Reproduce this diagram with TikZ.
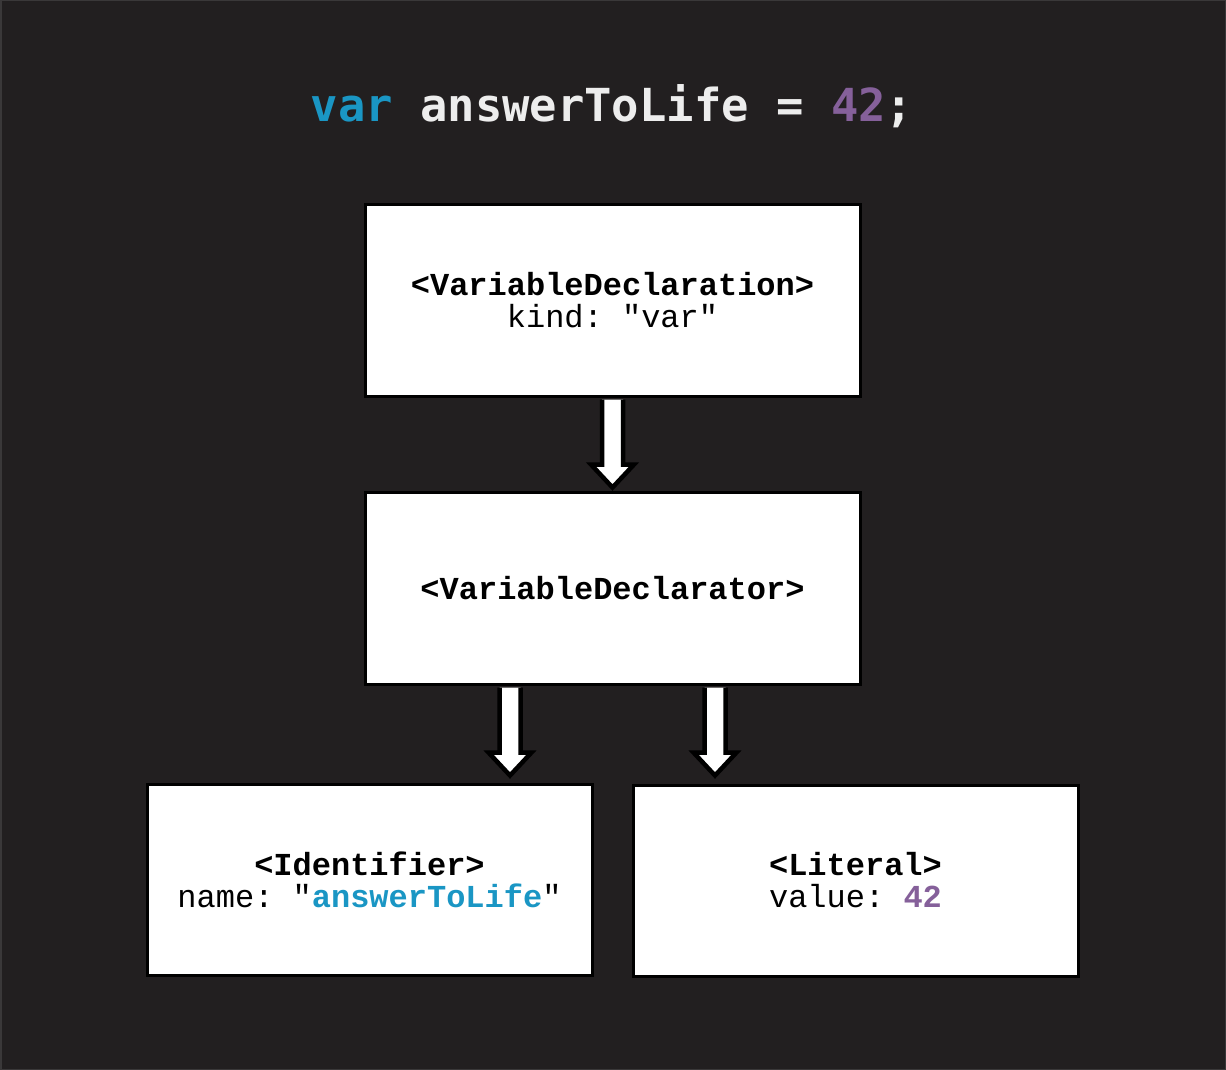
\documentclass[tikz,border=0pt]{standalone}
\usepackage{fontspec}
\setmonofont{Liberation Mono}
\newfontfamily\titlefont{DejaVu Sans Mono}
\usetikzlibrary{calc}
\definecolor{bg}{HTML}{221F20}
\definecolor{edgegrey}{HTML}{3A3839}
\definecolor{kwblue}{HTML}{1A96C4}
\definecolor{numpurple}{HTML}{85609A}
\definecolor{titlegrey}{HTML}{EDEDED}
\tikzset{
  astbox/.style={draw=black, line width=3pt, fill=white, inner sep=0pt,
    minimum width=495pt, minimum height=192pt, align=center,
    font=\ttfamily\fontsize{32}{32}\selectfont},
  leafbox/.style={astbox, minimum width=445pt, minimum height=191pt},
  blockarr/.style={draw=black, line width=4.5pt, fill=white, line join=miter},
}
\begin{document}
\begin{tikzpicture}[x=1pt,y=-1pt]
\fill[bg] (0,0) rectangle (1226,1070);
\draw[edgegrey, line width=1.5pt] (0.75,0.75) rectangle (1225.25,1069.25);
\useasboundingbox (0,0) rectangle (1226,1070);

\node[anchor=base, text=titlegrey, font=\titlefont\bfseries\fontsize{45.5}{45.5}\selectfont] (title) at (612,122)
  {\textcolor{kwblue}{var} answerToLife = \textcolor{numpurple}{42};};

\node[astbox] (b1) at (612.5,300) {\textbf{<VariableDeclaration>}\\kind: "var"};
\node[astbox] (b2) at (612.5,588) {\textbf{<VariableDeclarator>}};
\node[leafbox] (b3) at (369.5,879.5) {\textbf{<Identifier>}\\name: "\textcolor{kwblue}{\textbf{answerToLife}}"};
\node[leafbox] (b4) at (855.5,880.5) {\textbf{<Literal>}\\value: \textcolor{numpurple}{\textbf{42}}};

% arrow b1 -> b2
\coordinate (s1) at ($(b1.south)+(0,2)$);
\coordinate (t1) at ($(b2.north)+(0,-3)$);
\draw[blockarr] ($(s1)+(-10.5,0)$) -- ($(t1)+(-10.5,-23)$) -- ($(t1)+(-21.5,-23)$) -- (t1)
  -- ($(t1)+(21.5,-23)$) -- ($(t1)+(10.5,-23)$) -- ($(s1)+(10.5,0)$);

% arrow b2 -> b3
\coordinate (s2) at ($(b2.south)+(-102.5,2)$);
\coordinate (t2) at ($(s2 |- b3.north)+(0,-7)$);
\draw[blockarr] ($(s2)+(-10.5,0)$) -- ($(t2)+(-10.5,-23)$) -- ($(t2)+(-21.5,-23)$) -- (t2)
  -- ($(t2)+(21.5,-23)$) -- ($(t2)+(10.5,-23)$) -- ($(s2)+(10.5,0)$);

% arrow b2 -> b4
\coordinate (s3) at ($(b2.south)+(102.5,2)$);
\coordinate (t3) at ($(s3 |- b4.north)+(0,-8)$);
\draw[blockarr] ($(s3)+(-10.5,0)$) -- ($(t3)+(-10.5,-23)$) -- ($(t3)+(-21.5,-23)$) -- (t3)
  -- ($(t3)+(21.5,-23)$) -- ($(t3)+(10.5,-23)$) -- ($(s3)+(10.5,0)$);
\end{tikzpicture}
\end{document}
